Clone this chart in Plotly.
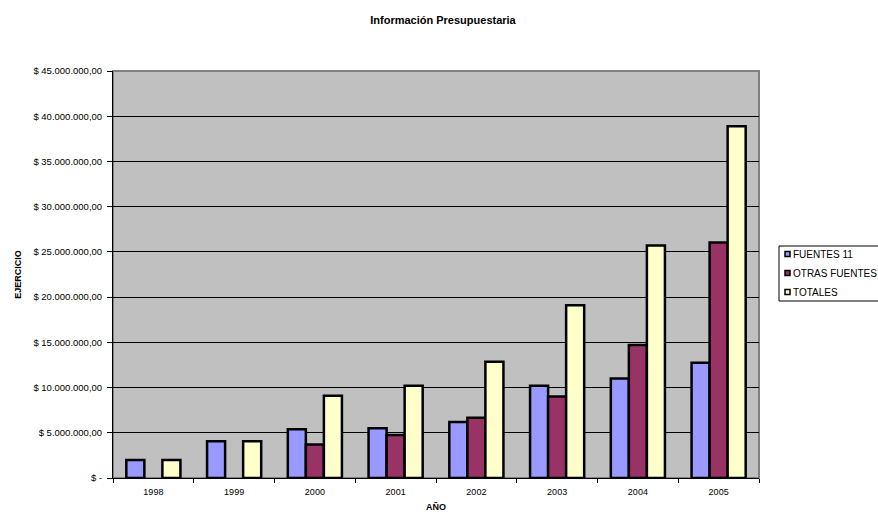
import plotly.graph_objects as go

years = ["1998", "1999", "2000", "2001", "2002", "2003", "2004", "2005"]
fuentes_11 = [2.0e6, 4.05e6, 5.4e6, 5.5e6, 6.2e6, 10.2e6, 11.0e6, 12.75e6]
otras_fuentes = [None, None, 3.7e6, 4.75e6, 6.65e6, 9.0e6, 14.7e6, 26.05e6]
totales = [2.0e6, 4.05e6, 9.1e6, 10.2e6, 12.85e6, 19.1e6, 25.7e6, 38.9e6]
series_names = ["FUENTES 11", "OTRAS FUENTES", "TOTALES"]
series_colors = ["#9999FF", "#993366", "#FFFFCC"]

y_tickvals = [0, 5e6, 10e6, 15e6, 20e6, 25e6, 30e6, 35e6, 40e6, 45e6]
y_ticktext = ["$ -", "$ 5.000.000,00", "$ 10.000.000,00", "$ 15.000.000,00",
              "$ 20.000.000,00", "$ 25.000.000,00", "$ 30.000.000,00",
              "$ 35.000.000,00", "$ 40.000.000,00", "$ 45.000.000,00"]

font = "Arial, Liberation Sans, sans-serif"

# plot area in window pixels: x 113-759, y 71-478
PL, PR, PT, PB = 113, 759, 71, 478
W, H = 878, 512


def px(x):
    return (x - PL) / (PR - PL)


def py(y):
    return (PB - y) / (PB - PT)


fig = go.Figure()
for name, vals, col in zip(series_names, [fuentes_11, otras_fuentes, totales], series_colors):
    fig.add_trace(go.Bar(x=years, y=vals, name=name, showlegend=False,
                         marker=dict(color=col, line=dict(color="black", width=2.5))))

fig.update_layout(
    width=W, height=H,
    margin=dict(l=PL, r=W - PR, t=PT, b=H - PB, autoexpand=False),
    barmode="group", bargap=0.33, bargroupgap=0,
    plot_bgcolor="#C0C0C0", paper_bgcolor="white",
    font=dict(family=font, size=9, color="black"),
    title=dict(text="<b>Información Presupuestaria</b>", x=443 / W, xanchor="center",
               y=1 - 20 / H, yanchor="middle", font=dict(size=11)),
    showlegend=False,
    xaxis=dict(type="category", showline=True, linecolor="black", linewidth=1,
               ticks="outside", tickson="boundaries", ticklen=4, tickcolor="black",
               ticklabelstandoff=5,
               title=dict(text="<b>AÑO</b>", font=dict(size=9), standoff=10),
               showgrid=False, automargin=False),
    yaxis=dict(range=[0, 45e6], tickvals=y_tickvals, ticktext=y_ticktext,
               showline=True, linecolor="black", linewidth=1,
               ticks="outside", ticklen=5, tickcolor="black",
               tickfont=dict(size=9.5), ticklabelstandoff=3,
               showgrid=True, gridcolor="black", gridwidth=1, zeroline=False,
               automargin=False,
               title=dict(text="<b>EJERCICIO</b>", font=dict(size=9), standoff=10)),
)
# plot area border (gray)
fig.add_shape(type="rect", xref="paper", yref="paper", x0=0, y0=0, x1=1, y1=1,
              line=dict(color="#808080", width=2), layer="below")

# legend box drawn by hand (reference legend is cut off at the right edge)
fig.add_shape(type="rect", xref="paper", yref="paper",
              x0=px(779), x1=px(885), y0=py(301), y1=py(246),
              line=dict(color="black", width=1), fillcolor="white")
for i, (name, col) in enumerate(zip(series_names, series_colors)):
    cy = 254 + i * 19
    fig.add_shape(type="rect", xref="paper", yref="paper",
                  x0=px(785), x1=px(790), y0=py(cy + 2.5), y1=py(cy - 2.5),
                  line=dict(color="black", width=1.5), fillcolor=col)
    fig.add_annotation(x=px(791), y=py(cy), xref="paper", yref="paper",
                       text=name, showarrow=False, xanchor="left", yanchor="middle",
                       font=dict(size=10, family=font, color="black"))

fig.write_html("out.html", config={"displayModeBar": False},
               post_script="document.body.style.margin='0';document.body.style.overflow='hidden';")
